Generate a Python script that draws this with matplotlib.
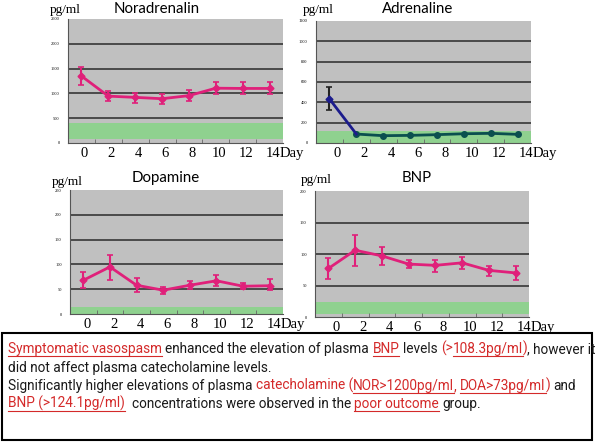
import matplotlib
matplotlib.use("Agg")
import matplotlib.pyplot as plt
import numpy as np
from matplotlib.lines import Line2D
from matplotlib.patches import Rectangle
from matplotlib.transforms import ScaledTranslation

W, H = 600, 444
DPI = 100

days = ["0", "2", "4", "6", "8", "10", "12", "14"]

nor_mean = [1350, 945, 920, 893, 955, 1105, 1100, 1100]
nor_lo = [1160, 840, 810, 795, 850, 990, 990, 990]
nor_hi = [1530, 1055, 1010, 995, 1060, 1220, 1220, 1220]

adr_mean = [434, 88, 72, 75, 82, 91, 95, 85]
adr_lo = [326, 88, 72, 75, 82, 91, 95, 85]
adr_hi = [548, 88, 72, 75, 82, 91, 95, 85]

dop_mean = [68, 95, 58, 48, 58, 67, 56, 57]
dop_lo = [52, 68, 44, 41, 50, 57, 50, 48]
dop_hi = [84, 119, 73, 54, 66, 79, 62, 70]

bnp_mean = [77, 106, 97, 84, 82, 86, 74, 70]
bnp_lo = [60, 81, 82, 77, 72, 76, 65, 59]
bnp_hi = [94, 130, 111, 91, 91, 96, 81, 81]

BG = "#c0c0c0"
GREEN = "#8fd18f"
PINK = "#e0207a"
NAVY = "#1c1c8c"
TEAL = "#0b4f4f"
SANS = ["Roboto", "DejaVu Sans"]
TSANS = ["Lato", "DejaVu Sans"]
SERIF = ["Liberation Serif", "DejaVu Serif"]
XFS = 10.5
XPAD = 3

fig = plt.figure(figsize=(W / DPI, H / DPI), dpi=DPI)
fig.patch.set_facecolor("white")
renderer = fig.canvas.get_renderer()


def measure(s, size, family):
    t = fig.text(0, 0, s, fontsize=size, family=family)
    w = t.get_window_extent(renderer).width
    t.remove()
    return w


def px_axes(x0, y0, x1, y1):
    return fig.add_axes([x0 / W, 1 - y1 / H, (x1 - x0) / W, (y1 - y0) / H])


def setup(ax, ymax, ystep, band, title, tpos, upos, lab_off):
    n = len(days)
    ax.set_facecolor(BG)
    ax.set_xlim(-0.5, n - 0.5)
    ax.set_ylim(0, ymax)
    ax.axhspan(band[0], band[1], color=GREEN, zorder=1, lw=0)
    yt = np.arange(0, ymax + 1, ystep)
    ax.set_yticks(yt)
    ax.set_yticklabels([str(int(v)) for v in yt], fontsize=3.2, family=SERIF)
    for v in yt[1:-1]:
        ax.axhline(v, color="#2a2a2a", lw=1.1, zorder=2)
    ax.tick_params(axis="y", length=0, pad=6)
    ax.set_xticks(range(n))
    ax.set_xticklabels(days, fontsize=XFS, family=SERIF)
    ax.set_xticks(np.arange(0.5, n - 0.5, 1), minor=True)
    ax.tick_params(axis="x", which="major", length=0, pad=XPAD)
    ax.tick_params(axis="x", which="minor", length=3, direction="in", color="#666666")
    off = ScaledTranslation(lab_off / DPI, 0, fig.dpi_scale_trans)
    for lbl in ax.get_xticklabels():
        lbl.set_transform(lbl.get_transform() + off)
    for s in ["top", "right"]:
        ax.spines[s].set_visible(False)
    ax.spines["left"].set_color("#555555")
    ax.spines["bottom"].set_color("#555555")
    fig.text(tpos[0] / W, 1 - tpos[1] / H, title, fontsize=10.8, family=TSANS,
             ha="center", va="center")
    fig.text(upos[0] / W, 1 - upos[1] / H, "pg/ml", fontsize=9.5, family=SERIF,
             ha="center", va="center")
    w14 = measure(days[-1], XFS, SERIF)
    doff = ScaledTranslation((lab_off + w14 / 2) / DPI, -XPAD / 72, fig.dpi_scale_trans)
    ax.text(n - 1, 0, "Day", transform=ax.get_xaxis_transform() + doff, fontsize=XFS,
            family=SERIF, ha="left", va="top")


def errplot(ax, m, lo, hi, color, ecolor=None, marker="D", ms=3.5):
    x = np.arange(len(m))
    m = np.array(m)
    yerr = [m - np.array(lo), np.array(hi) - m]
    ax.errorbar(x, m, yerr=yerr, color=color, ecolor=ecolor or color, lw=2,
                marker=marker, ms=ms, capsize=2.5, elinewidth=1.5, capthick=1.2,
                zorder=4)


# Noradrenalin
ax1 = px_axes(68, 19, 283, 143)
setup(ax1, 2500, 500, (90, 400), "Noradrenalin", (157, 9), (65, 10), 3)
errplot(ax1, nor_mean, nor_lo, nor_hi, PINK)

# Adrenaline
ax2 = px_axes(316, 21, 531, 143)
setup(ax2, 1200, 200, (0, 115), "Adrenaline", (418, 9), (318, 10), 8)
x = np.arange(len(days))
ax2.plot(x[1:], adr_mean[1:], color=TEAL, lw=2, marker="o", ms=4, zorder=4)
ax2.plot(x[:2], adr_mean[:2], color=NAVY, lw=2, zorder=5)
ax2.errorbar([0], [adr_mean[0]], yerr=[[adr_mean[0] - adr_lo[0]], [adr_hi[0] - adr_mean[0]]],
             color=NAVY, ecolor="#222222", marker="D", ms=3.5, capsize=2.5,
             elinewidth=1.5, capthick=1.2, zorder=5)

# Dopamine
ax3 = px_axes(70, 190, 283, 314)
setup(ax3, 250, 50, (0, 15), "Dopamine", (166, 178), (67, 182), 4)
errplot(ax3, dop_mean, dop_lo, dop_hi, PINK)

# BNP
ax4 = px_axes(315, 191, 529, 317)
setup(ax4, 200, 50, (4, 24), "BNP", (417, 178), (316, 180), 8)
errplot(ax4, bnp_mean, bnp_lo, bnp_hi, PINK)

# Text box
fig.add_artist(Rectangle((2 / W, 1 - 440 / H), (592 - 2) / W, (440 - 333) / H,
                         transform=fig.transFigure, fill=False, lw=1.5, ec="black"))

RED = "#d42a2a"
BLK = "#1a1a1a"
lines = [
    [("Symptomatic vasospasm", RED, True), (" enhanced the elevation of plasma", BLK, False),
     (" BNP", RED, True), (" levels", BLK, False), (" (>", RED, False),
     ("108.3pg/ml", RED, True), (")", RED, False), (", however it", BLK, False)],
    [("did not affect plasma catecholamine levels.", BLK, False)],
    [("Significantly higher elevations of plasma", BLK, False), (" catecholamine (", RED, False),
     ("NOR>1200pg/ml", RED, True), (",", RED, False), (" DOA>73pg/ml", RED, True),
     (")", RED, False), (" and", BLK, False)],
    [("BNP (>124.1pg/ml)", RED, True), ("  concentrations were observed in the", BLK, False),
     (" poor outcome", RED, True), (" group.", BLK, False)],
]
baselines = [353, 372, 390, 408]

fs0 = 12.0
fs_a = fs0 * 577.0 / measure("".join(s for s, _, _ in lines[2]), fs0, SANS)
fs_b = fs0 * 588.0 / measure("".join(s for s, _, _ in lines[0]), fs0, SANS)
fs = min(fs_a, fs_b)
space_w = measure("a a", fs, SANS) - measure("aa", fs, SANS)

for segs, yb in zip(lines, baselines):
    xp = 8.0
    for s, col, ul in segs:
        while s.startswith(" "):
            xp += space_w
            s = s[1:]
        t = fig.text(xp / W, 1 - yb / H, s, fontsize=fs, family=SANS, color=col,
                     ha="left", va="baseline")
        bb = t.get_window_extent(renderer)
        if ul:
            fig.add_artist(Line2D([xp / W, (xp + bb.width) / W],
                                  [1 - (yb + 2.5) / H] * 2, transform=fig.transFigure,
                                  color=col, lw=0.8))
        xp += bb.width

fig.savefig("out.png", dpi=DPI)
